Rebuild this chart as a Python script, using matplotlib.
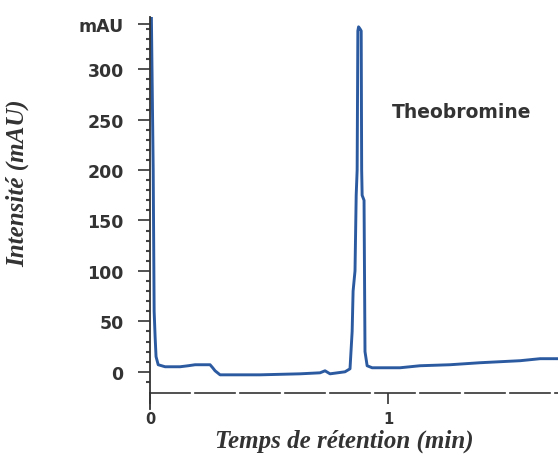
import matplotlib
matplotlib.use("Agg")
import matplotlib.pyplot as plt
import numpy as np

# retention time (min) and signal (mAU)
temps = [0.005, 0.013, 0.017, 0.021, 0.025, 0.034, 0.063, 0.126, 0.160, 0.189,
         0.252, 0.263, 0.273, 0.294, 0.462, 0.630, 0.714, 0.735, 0.756, 0.819,
         0.840, 0.849, 0.853, 0.857, 0.861, 0.866, 0.870, 0.873, 0.876, 0.882,
         0.887, 0.889, 0.891, 0.899, 0.903, 0.912, 0.933, 1.05, 1.134, 1.26,
         1.387, 1.555, 1.639, 1.714]
intensite = [360, 200, 60, 35, 15, 7, 5, 5, 6, 7,
             7, 4, 1, -3, -3, -2, -1, 1, -2, 0,
             3, 40, 80, 90, 100, 175, 200, 338, 342, 340,
             338, 200, 175, 170, 20, 6, 4, 4, 6, 7,
             9, 11, 13, 13]

yticks = [0, 50, 100, 150, 200, 250, 300, 345]
ytick_labels = ["0", "50", "100", "150", "200", "250", "300", "mAU"]
xticks = [0, 1]
xtick_labels = ["0", "1"]

fig = plt.figure(figsize=(5.58, 4.56), dpi=100)
ax = fig.add_axes([0.269, 0.136, 0.731, 0.824])

ax.plot(temps, intensite, color="#2c5aa0", lw=2.1, solid_joinstyle="round")

ax.set_xlim(0, 1.714)
ax.set_ylim(-21, 351.5)

for s in ["top", "right"]:
    ax.spines[s].set_visible(False)
ax.spines["left"].set_color("#333333")
ax.spines["left"].set_linewidth(1.3)
ax.spines["bottom"].set_color("#333333")
ax.spines["bottom"].set_linewidth(1.2)
ax.spines["bottom"].set_linestyle((0, (24, 3)))
# y axis line goes a little below the time axis
ax.plot([0, 0], [-21, -37], color="#333333", lw=1.3, clip_on=False)

ax.set_yticks(yticks)
ax.set_yticklabels(ytick_labels, fontsize=12.5, fontweight="bold", color="#333333")
ax.set_yticks(np.arange(-10, 345, 10), minor=True)
ax.tick_params(axis="y", which="major", length=9, width=1.2, color="#333333", pad=10)
ax.tick_params(axis="y", which="minor", length=3, width=1.5, color="#444444")

ax.set_xticks(xticks)
ax.set_xticklabels(xtick_labels, fontsize=10.5, fontweight="bold", color="#333333")
ax.tick_params(axis="x", length=8, width=1.2, color="#333333", pad=5)

ax.text(1.307, 258, "Theobromine", fontsize=13.5, fontweight="bold",
        color="#333333", ha="center", va="center")

fig.text(0.032, 0.599, "Intensité (mAU)", rotation=90, fontsize=18,
         family="Liberation Serif", style="italic", fontweight="bold",
         color="#333333", ha="center", va="center")
fig.text(0.617, 0.033, "Temps de rétention (min)", fontsize=18,
         family="Liberation Serif", style="italic", fontweight="bold",
         color="#333333", ha="center", va="center")

fig.savefig("out.png", dpi=100)
